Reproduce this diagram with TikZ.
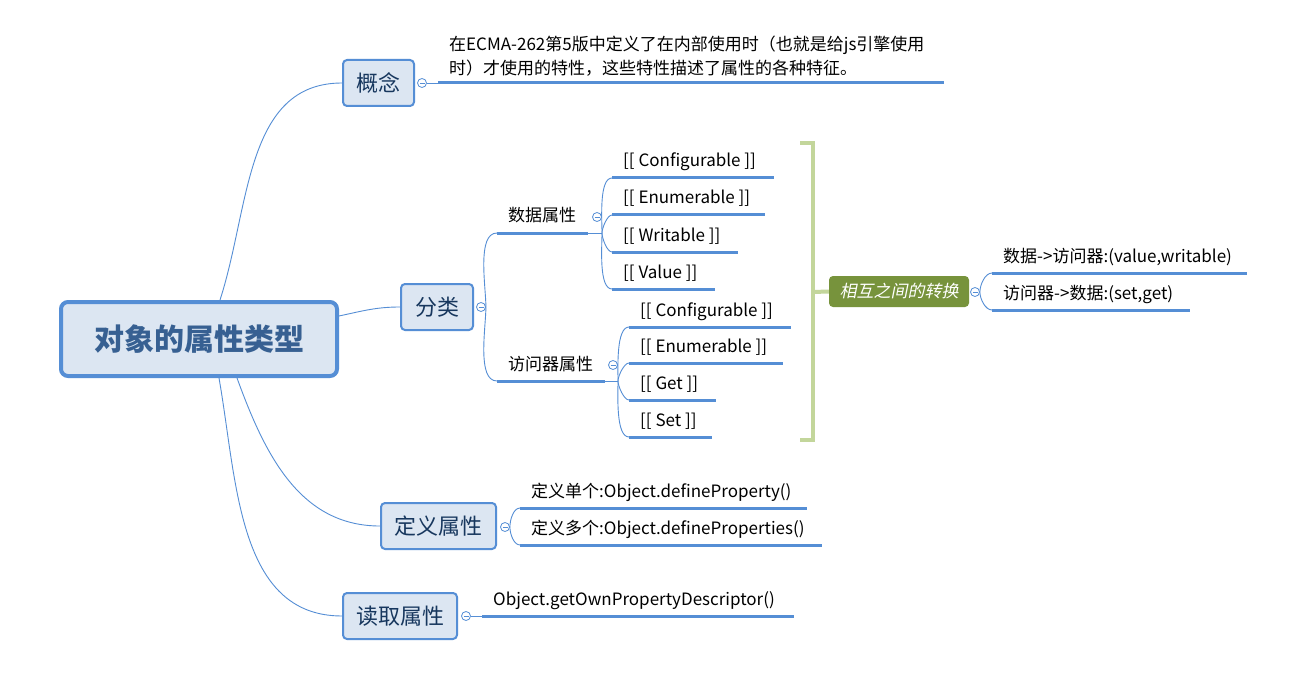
\documentclass[tikz,border=0pt]{standalone}
\usepackage{fontspec}
\setmainfont{Noto Sans CJK SC}
\newfontfamily\slantfont[FakeSlant=0.2]{Noto Sans CJK SC}
\usetikzlibrary{positioning}
\definecolor{lineblue}{RGB}{85, 142, 213}
\definecolor{boxfill}{RGB}{220, 230, 242}
\definecolor{boxtext}{RGB}{23, 55, 94}
\definecolor{roottext}{RGB}{55, 96, 146}
\definecolor{bracketgreen}{RGB}{195, 214, 155}
\definecolor{olive1}{RGB}{119, 147, 60}
\tikzset{
  rootbox/.style={draw=lineblue, line width=4pt, fill=boxfill, rounded corners=7pt,
    minimum width=276pt, minimum height=74pt, inner sep=0pt,
    font=\fontsize{30}{36}\selectfont\bfseries, text=roottext},
  topicbox/.style={draw=lineblue, line width=2pt, fill=boxfill, rounded corners=4pt,
    minimum height=46pt, inner sep=0pt, font=\fontsize{22}{26}\selectfont, text=boxtext},
  leaf/.style={anchor=base west, inner sep=0pt, font=\fontsize{17}{20}\selectfont},
  collapse/.style={circle, draw=lineblue, fill=white, line width=0.8pt, minimum size=9pt, inner sep=0pt,
    path picture={\draw[lineblue, line width=0.8pt] ([xshift=-2.5pt]path picture bounding box.center) -- ([xshift=2.5pt]path picture bounding box.center);}},
  conn/.style={draw=lineblue, line width=0.9pt},
  uline/.style={draw=lineblue, line width=3pt},
  bracket/.style={draw=bracketgreen, line width=4pt},
}

\begin{document}
\begin{tikzpicture}[x=1pt, y=-1pt]
  \fill[white] (0,0) rectangle (1298,687);
  \useasboundingbox (0,0) rectangle (1298,687);

  % Root topic
  \node[rootbox] (root) at (199,339) {对象的属性类型};

  % Main topics
  \node[topicbox, minimum width=71pt] (gn) at (378.5,83) {概念};
  \node[topicbox, minimum width=72pt] (fl) at (437,307) {分类};
  \node[topicbox, minimum width=115pt] (dy) at (438.5,526) {定义属性};
  \node[topicbox, minimum width=114pt] (dq) at (400,616) {读取属性};

  \draw[conn] ([xshift=21pt]root.north) to[out=72, in=180] (gn.west);
  \draw[conn] ([yshift=23pt]root.east) to[out=12, in=180] (fl.west);
  \draw[conn] ([xshift=38pt]root.south) to[out=-70, in=180] (dy.west);
  \draw[conn] ([xshift=20pt]root.south) to[out=-80, in=180] (dq.west);

  % Concept
  \node[collapse] (gnc) at (422,83) {};
  \coordinate (gnL) at (438,83);
  \draw[conn] (gnc.east) -- (gnL);
  \draw[uline] (gnL) -- ++(506,0);
  \node[anchor=west, inner sep=0pt, align=left, font=\fontsize{17}{24}\selectfont] (gntext) at (449,56)
    {在ECMA-262第5版中定义了在内部使用时（也就是给js引擎使用\\时）才使用的特性，这些特性描述了属性的各种特征。};

  % Classification
  \node[collapse] (flc) at (481,307) {};
  \coordinate (sjL) at (497,233);
  \coordinate (sjR) at (588,233);
  \coordinate (sjJ) at (602,233);
  \coordinate (fjL) at (497,381);
  \coordinate (fjR) at (605,381);
  \coordinate (fjJ) at (618,381);
  \draw[conn] (flc.east) to[out=90, in=180, looseness=0.7] (sjL);
  \draw[conn] (flc.east) to[out=-90, in=180, looseness=0.7] (fjL);

  % Data properties
  \node[leaf] (sj) at (508,222) {数据属性};
  \draw[uline] (sjL) -- (sjR);
  \draw[conn] (sjR) -- (sjJ);
  \node[collapse] (sjc) at (597,217) {};
  \coordinate (dcfgL) at (612,178);
  \coordinate (denuL) at (612,215);
  \coordinate (dwriL) at (612,252);
  \coordinate (dvalL) at (612,289);
  \draw[conn] (sjJ) to[out=90, in=180, looseness=0.6] (dcfgL);
  \draw[conn] (sjJ) to[out=90, in=180, looseness=0.6] (denuL);
  \draw[conn] (sjJ) to[out=-90, in=180, looseness=0.6] (dwriL);
  \draw[conn] (sjJ) to[out=-90, in=180, looseness=0.6] (dvalL);
  \draw[uline] (dcfgL) -- ++(162,0);
  \draw[uline] (denuL) -- ++(153,0);
  \draw[uline] (dwriL) -- ++(126,0);
  \draw[uline] (dvalL) -- ++(103,0);
  \node[leaf] (dcfg) at (623,167) {[[ Configurable ]]};
  \node[leaf] (denu) at (623,204) {[[ Enumerable ]]};
  \node[leaf] (dwri) at (623,241) {[[ Writable ]]};
  \node[leaf] (dval) at (623,278) {[[ Value ]]};

  % Accessor properties
  \node[leaf] (fj) at (508,370) {访问器属性};
  \draw[uline] (fjL) -- (fjR);
  \draw[conn] (fjR) -- (fjJ);
  \node[collapse] (fjc) at (613,365) {};
  \coordinate (acfgL) at (629,327);
  \coordinate (aenuL) at (629,363);
  \coordinate (agetL) at (629,400);
  \coordinate (asetL) at (629,437);
  \draw[conn] (fjJ) to[out=90, in=180, looseness=0.6] (acfgL);
  \draw[conn] (fjJ) to[out=90, in=180, looseness=0.6] (aenuL);
  \draw[conn] (fjJ) to[out=-90, in=180, looseness=0.6] (agetL);
  \draw[conn] (fjJ) to[out=-90, in=180, looseness=0.6] (asetL);
  \draw[uline] (acfgL) -- ++(162,0);
  \draw[uline] (aenuL) -- ++(154,0);
  \draw[uline] (agetL) -- ++(87,0);
  \draw[uline] (asetL) -- ++(83,0);
  \node[leaf] (acfg) at (640,316) {[[ Configurable ]]};
  \node[leaf] (aenu) at (640,352) {[[ Enumerable ]]};
  \node[leaf] (aget) at (640,389) {[[ Get ]]};
  \node[leaf] (aset) at (640,426) {[[ Set ]]};

  % Conversion summary
  \node[fill=olive1, rounded corners=4pt, minimum width=140pt, minimum height=31pt, inner sep=0pt,
    text=white, font=\fontsize{17}{20}\selectfont\slantfont] (zh) at (899,291.5) {相互之间的转换};
  \coordinate (brk) at (813,292);
  \draw[bracket] (800,143) -- (813,143) -- (813,440) -- (800,440);
  \draw[bracket] (brk) -- (zh.west);
  \node[collapse] (zhc) at (975,292) {};
  \coordinate (rz1L) at (992,273);
  \coordinate (rz2L) at (992,310);
  \draw[conn] (zhc.east) to[out=90, in=180, looseness=0.8] (rz1L);
  \draw[conn] (zhc.east) to[out=-90, in=180, looseness=0.8] (rz2L);
  \draw[uline] (rz1L) -- ++(255,0);
  \draw[uline] (rz2L) -- ++(198,0);
  \node[leaf] (rz1) at (1003,262) {数据->访问器:(value,writable)};
  \node[leaf] (rz2) at (1003,299) {访问器->数据:(set,get)};

  % Define properties
  \node[collapse] (dyc) at (505,527) {};
  \coordinate (d1L) at (520,508);
  \coordinate (d2L) at (520,545);
  \draw[conn] (dyc.east) to[out=90, in=180, looseness=0.8] (d1L);
  \draw[conn] (dyc.east) to[out=-90, in=180, looseness=0.8] (d2L);
  \draw[uline] (d1L) -- ++(287,0);
  \draw[uline] (d2L) -- ++(302,0);
  \node[leaf] (d1) at (531,497) {定义单个:Object.defineProperty()};
  \node[leaf] (d2) at (531,534) {定义多个:Object.defineProperties()};

  % Read properties
  \node[collapse] (dqc) at (466,616) {};
  \coordinate (dqL) at (482,616);
  \draw[conn] (dqc.east) -- (dqL);
  \draw[uline] (dqL) -- ++(312,0);
  \node[leaf] (dqt) at (493,605) {Object.getOwnPropertyDescriptor()};
\end{tikzpicture}
\end{document}
